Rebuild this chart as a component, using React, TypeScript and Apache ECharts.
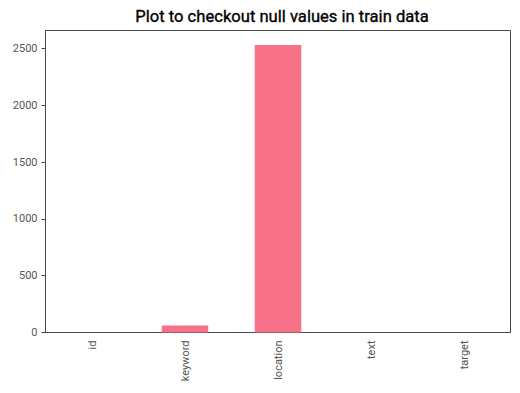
import React, { useEffect, useRef } from "react";
import * as echarts from "echarts";

const categories = ["id", "keyword", "location", "text", "target"];
const nullCounts = [0, 61, 2533, 0, 0];
const yTicks = [0, 500, 1000, 1500, 2000, 2500];
const titleText = "Plot to checkout null values in train data";

export default function App() {
  const ref = useRef<HTMLDivElement>(null);
  useEffect(() => {
    const chart = echarts.init(ref.current!, null, { renderer: "svg" });
    const spine = "#4a4a4a";
    chart.setOption({
      animation: false,
      backgroundColor: "#ffffff",
      title: {
        text: titleText,
        left: 277,
        textAlign: "center",
        top: 3,
        textStyle: {
          fontFamily: "Roboto",
          fontSize: 16.6,
          fontWeight: "normal",
          color: "#000",
          textBorderColor: "#000",
          textBorderWidth: 0.35,
        },
      },
      grid: {
        left: 45.5,
        right: 9.5,
        top: 30.5,
        bottom: 60.5,
        show: true,
        borderColor: spine,
        borderWidth: 1,
      },
      xAxis: {
        type: "category",
        data: categories,
        axisLine: { lineStyle: { color: spine, width: 1 } },
        axisTick: { alignWithLabel: true, length: 4, lineStyle: { color: spine } },
        axisLabel: {
          rotate: 90,
          fontFamily: "Roboto",
          fontSize: 11,
          color: "#555",
          margin: 8,
        },
      },
      yAxis: {
        type: "value",
        min: 0,
        max: 2660,
        interval: 500,
        splitLine: { show: false },
        axisLine: { show: true, lineStyle: { color: spine, width: 1 } },
        axisTick: { show: true, length: 4, lineStyle: { color: spine }, customValues: yTicks },
        axisLabel: {
          fontFamily: "Roboto",
          fontSize: 11,
          color: "#555",
          margin: 8,
          customValues: yTicks,
          formatter: (v: number) => String(v),
        },
      },
      series: [
        {
          type: "bar",
          data: nullCounts,
          barWidth: "50%",
          itemStyle: { color: "#f77189" },
        },
      ],
    });
    return () => chart.dispose();
  }, []);
  return <div ref={ref} style={{ width: 520, height: 393, position: "absolute", left: 0, top: 0 }} />;
}
